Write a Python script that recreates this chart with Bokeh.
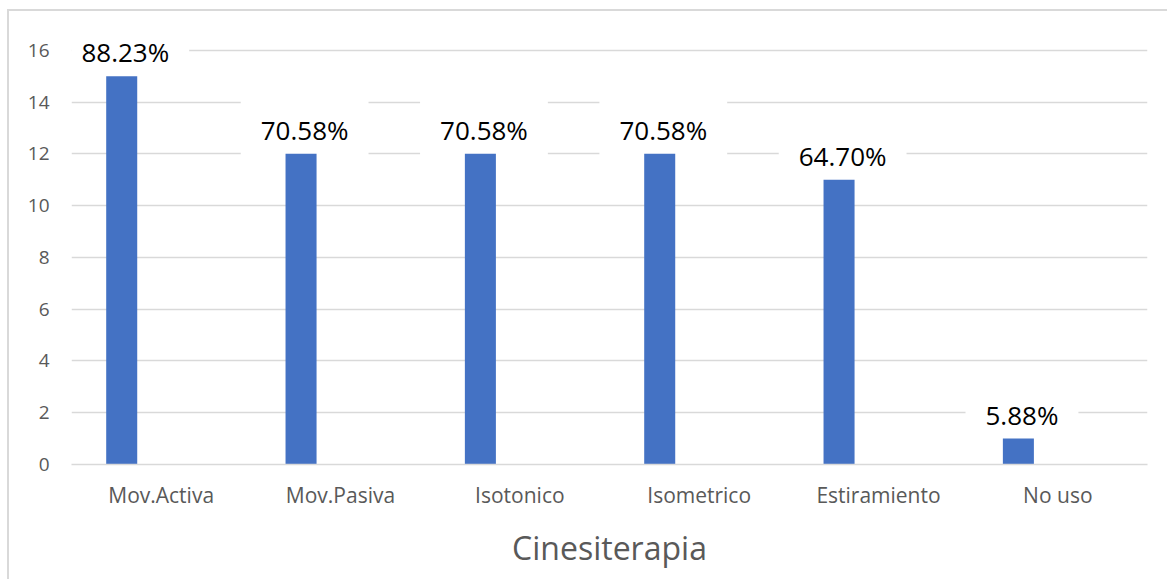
from bokeh.plotting import figure
from bokeh.models import ColumnDataSource, FactorRange, Range1d
from bokeh.transform import dodge
from bokeh.core.properties import value
from bokeh.embed import file_html
from bokeh.resources import INLINE

categories = ["Mov.Activa", "Mov.Pasiva", "Isotonico", "Isometrico", "Estiramiento", "No uso"]
counts = [15, 12, 12, 12, 11, 1]
percent_labels = ["88.23%", "70.58%", "70.58%", "70.58%", "64.70%", "5.88%"]
y_ticks = [0, 2, 4, 6, 8, 10, 12, 14, 16]
x_title = "Cinesiterapia"

source = ColumnDataSource(dict(cat=categories, val=counts, lab=percent_labels))

FONT = "Open Sans"
GRAY = "#595959"

p = figure(
    x_range=FactorRange(*categories, range_padding=0),
    y_range=Range1d(0, 17.5),
    width=1160, height=570,
    output_backend="svg", toolbar_location=None,
    min_border_left=62, min_border_right=22, min_border_top=0, min_border_bottom=117,
    margin=(9, 0, 0, 7),
)
p.styles = {"border-left": "2px solid #d9d9d9", "border-top": "2px solid #d9d9d9"}
p.outline_line_color = None
p.background_fill_color = "white"
p.border_fill_color = "white"

# labels first (white boxes hide gridlines), bars drawn on top
p.text(x=dodge("cat", -0.2, range=p.x_range), y="val", text="lab", source=source,
       text_font=value(FONT), text_font_size="26px", text_color="black",
       text_align="center", text_baseline="middle", y_offset=-24,
       background_fill_color="white", padding=(20, 14))

p.vbar(x=dodge("cat", -0.22, range=p.x_range), top="val", width=0.173, source=source,
       fill_color="#4472C4", line_color=None)

p.xgrid.grid_line_color = None
p.ygrid.grid_line_color = "#d9d9d9"
p.ygrid.grid_line_width = 1.5
p.yaxis.ticker = y_ticks
p.yaxis.axis_line_color = None
p.yaxis.major_tick_line_color = None
p.yaxis.minor_tick_line_color = None
p.yaxis.major_label_text_font = FONT
p.yaxis.major_label_text_font_size = "19px"
p.yaxis.major_label_text_color = GRAY
p.yaxis.major_label_standoff = 16

p.xaxis.axis_line_color = "#d9d9d9"
p.xaxis.axis_line_width = 1.5
p.xaxis.major_tick_line_color = None
p.xaxis.minor_tick_line_color = None
p.xaxis.major_label_text_font = FONT
p.xaxis.major_label_text_font_size = "21px"
p.xaxis.major_label_text_color = GRAY
p.xaxis.major_label_standoff = 10
p.xaxis.axis_label = x_title
p.xaxis.axis_label_text_font = FONT
p.xaxis.axis_label_text_font_size = "32px"
p.xaxis.axis_label_text_font_style = "normal"
p.xaxis.axis_label_text_color = GRAY
p.xaxis.axis_label_standoff = 14

open("out.html", "w").write(file_html(p, INLINE))
